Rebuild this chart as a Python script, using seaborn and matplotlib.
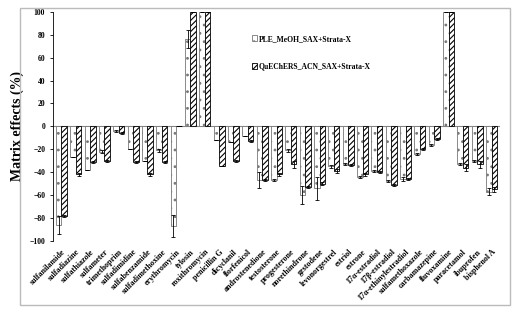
import numpy as np
import pandas as pd
import matplotlib
matplotlib.use("Agg")
import matplotlib.pyplot as plt
from matplotlib.patches import Rectangle, Patch
import seaborn as sns

compounds = ["sulfanilamide", "sulfadiazine", "sulfathiazole", "sulfameter", "trimethoprim",
             "sulfadimidine", "sulfabenzamide", "sulfadimethoxine", "erythromycin", "tylosin",
             "roxithromycin", "penicillin G", "dicyclanil", "florfenicol", "androstenedione",
             "testosterone", "progesterone", "norethindrone", "gestodene", "levonorgestrel",
             "estriol", "estrone", "17α-estradiol", "17β-estradiol", "17α-ethinylestradiol",
             "sulfamethoxazole", "carbamazepine", "fluvoxamine", "paracetamol", "ibuprofen",
             "bisphenol A"]
ple = [-86, -27, -38, -22, -4, -20, -30, -21, -87, 76, 100, -12, -14, -8, -47,
       -47, -21, -60, -54, -35, -33, -44, -39, -48, -46, -24, -16, 100, -33, -30, -57]
ple_err = [8, 0, 0, 1, 1, 0, 0, 1, 10, 8, 0, 0, 0, 0, 7,
           1, 1, 8, 10, 1, 1, 1, 1, 1, 2, 1, 1, 0, 1, 1, 3]
quech = [-78, -42, -31, -30, -6, -31, -42, -31, 0.5, 100, 100, -35, -30, -13, -47,
         -42, -33, -53, -50, -39, -34, -42, -40, -51, -46, -20, -11, 100, -36, -33, -55]
quech_err = [1, 1, 1, 1, 1, 1, 1, 1, 0, 0, 0, 0, 1, 1, 1,
             1, 3, 1, 1, 2, 1, 1, 1, 1, 1, 1, 1, 0, 3, 3, 2]
methods = ["PLE_MeOH_SAX+Strata-X", "QuEChERS_ACN_SAX+Strata-X"]

df = pd.DataFrame({
    "compound": compounds * 2,
    "method": [methods[0]] * len(compounds) + [methods[1]] * len(compounds),
    "value": ple + quech,
})

plt.rcParams["font.family"] = ["Liberation Serif", "DejaVu Serif"]
plt.rcParams["font.weight"] = "bold"
plt.rcParams["hatch.linewidth"] = 0.8

fig = plt.figure(figsize=(5.13, 3.12), dpi=100)
ax = fig.add_axes([0.103, 0.228, 0.872, 0.734])

sns.barplot(data=df, x="compound", y="value", hue="method", order=compounds,
            hue_order=methods, width=0.78, ax=ax, legend=False)

styles = [dict(hatch="..", edgecolor="#777777"), dict(hatch="//////", edgecolor="black")]
errs = [ple_err, quech_err]
vals = [ple, quech]
for cont, st, er, vv in zip(ax.containers, styles, errs, vals):
    xs = []
    for bar in cont:
        bar.set_facecolor("white")
        bar.set_edgecolor(st["edgecolor"])
        bar.set_hatch(st["hatch"])
        bar.set_linewidth(0.6)
        xs.append(bar.get_x() + bar.get_width() / 2)
    ax.errorbar(xs, vv, yerr=er, fmt="none", ecolor="black", elinewidth=0.6,
                capsize=1.5, capthick=0.6)

ax.set_ylim(-100, 100)
ax.set_xlim(-0.6, len(compounds) - 0.4)
ax.set_yticks(np.arange(-100, 101, 20))
ax.tick_params(axis="y", labelsize=5.5, length=2, width=0.6)
ax.tick_params(axis="x", length=0, labelsize=5.8, pad=5)
ax.set_xticks(range(len(compounds)))
ax.set_xticklabels(compounds, rotation=45, ha="right", rotation_mode="anchor",
                   fontweight="bold")
for lab in ax.get_yticklabels():
    lab.set_fontweight("bold")
ax.axhline(0, color="#888888", lw=0.8, zorder=0)
ax.set_xlabel("")
ax.set_ylabel("Matrix effects (%)", fontsize=10, fontweight="bold", labelpad=4)
for s in ["top", "right", "bottom"]:
    ax.spines[s].set_visible(False)
ax.spines["left"].set_linewidth(0.6)

handles = [Patch(facecolor="white", edgecolor=st["edgecolor"], hatch=st["hatch"], lw=0.6)
           for st in styles]
leg = ax.legend(handles, methods, loc="upper left", bbox_to_anchor=(0.43, 0.93),
                frameon=False, fontsize=5.5, labelspacing=2.6, handlelength=0.7,
                handleheight=0.7, handletextpad=0.2)
for t in leg.get_texts():
    t.set_fontweight("bold")

fig.patches.append(Rectangle((0.039, 0.022), 0.955, 0.952, transform=fig.transFigure,
                             fill=False, edgecolor="#bbbbbb", lw=1))

fig.savefig("out.png", dpi=100)
